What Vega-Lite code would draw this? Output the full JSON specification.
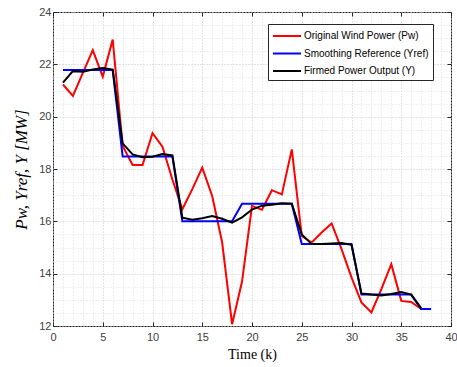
{
  "$schema": "https://vega.github.io/schema/vega-lite/v6.json",
  "width": 398,
  "height": 314,
  "autosize": "none",
  "padding": {"left": 53, "top": 12, "right": 6, "bottom": 41},
  "background": "white",
  "config": {
    "view": {"stroke": "#262626", "strokeWidth": 1},
    "style": {"guide-title": {"fontWeight": "normal"}},
    "axis": {
      "labelFont": "Liberation Sans",
      "labelFontSize": 11,
      "labelColor": "#404040",
      "tickColor": "#262626",
      "tickSize": -4,
      "domain": false,
      "titleColor": "#000000",
      "titleFontWeight": "normal"
    },
    "legend": {
      "orient": "none",
      "legendX": 215,
      "legendY": 12,
      "strokeColor": "#262626",
      "fillColor": "#ffffff",
      "padding": 4,
      "labelFont": "Liberation Sans",
      "labelFontSize": 10,
      "labelColor": "#000000",
      "symbolType": "M-1,0H3",
      "symbolStrokeWidth": 2,
      "symbolSize": 196,
      "labelOffset": 16,
      "rowPadding": 4.5,
      "labelLimit": 300
    }
  },
  "data": {
    "values": [
      {"k": 1, "Pw": 21.23, "Yref": 21.78, "Y": 21.3},
      {"k": 2, "Pw": 20.79, "Yref": 21.78, "Y": 21.74},
      {"k": 3, "Pw": 21.67, "Yref": 21.78, "Y": 21.72},
      {"k": 4, "Pw": 22.54, "Yref": 21.78, "Y": 21.8},
      {"k": 5, "Pw": 21.53, "Yref": 21.78, "Y": 21.86},
      {"k": 6, "Pw": 22.95, "Yref": 21.78, "Y": 21.8},
      {"k": 7, "Pw": 18.88, "Yref": 18.48, "Y": 18.98},
      {"k": 8, "Pw": 18.15, "Yref": 18.48, "Y": 18.56},
      {"k": 9, "Pw": 18.15, "Yref": 18.48, "Y": 18.45},
      {"k": 10, "Pw": 19.37, "Yref": 18.48, "Y": 18.47},
      {"k": 11, "Pw": 18.85, "Yref": 18.48, "Y": 18.57},
      {"k": 12, "Pw": 17.6, "Yref": 18.48, "Y": 18.52},
      {"k": 13, "Pw": 16.46, "Yref": 16.0, "Y": 16.14},
      {"k": 14, "Pw": 17.23, "Yref": 16.0, "Y": 16.06},
      {"k": 15, "Pw": 18.05, "Yref": 16.0, "Y": 16.12},
      {"k": 16, "Pw": 16.97, "Yref": 16.0, "Y": 16.2},
      {"k": 17, "Pw": 15.19, "Yref": 16.0, "Y": 16.1},
      {"k": 18, "Pw": 12.07, "Yref": 16.0, "Y": 15.95},
      {"k": 19, "Pw": 13.7, "Yref": 16.67, "Y": 16.15},
      {"k": 20, "Pw": 16.59, "Yref": 16.67, "Y": 16.45},
      {"k": 21, "Pw": 16.44, "Yref": 16.67, "Y": 16.6},
      {"k": 22, "Pw": 17.19, "Yref": 16.67, "Y": 16.63},
      {"k": 23, "Pw": 17.03, "Yref": 16.67, "Y": 16.69},
      {"k": 24, "Pw": 18.75, "Yref": 16.67, "Y": 16.67},
      {"k": 25, "Pw": 15.44, "Yref": 15.13, "Y": 15.5},
      {"k": 26, "Pw": 15.19, "Yref": 15.13, "Y": 15.13},
      {"k": 27, "Pw": 15.57, "Yref": 15.13, "Y": 15.13},
      {"k": 28, "Pw": 15.92, "Yref": 15.13, "Y": 15.15},
      {"k": 29, "Pw": 14.94, "Yref": 15.13, "Y": 15.17},
      {"k": 30, "Pw": 13.86, "Yref": 15.13, "Y": 15.1},
      {"k": 31, "Pw": 12.9, "Yref": 13.2, "Y": 13.24},
      {"k": 32, "Pw": 12.52, "Yref": 13.2, "Y": 13.2},
      {"k": 33, "Pw": 13.41, "Yref": 13.2, "Y": 13.17},
      {"k": 34, "Pw": 14.36, "Yref": 13.2, "Y": 13.22},
      {"k": 35, "Pw": 12.96, "Yref": 13.2, "Y": 13.3},
      {"k": 36, "Pw": 12.92, "Yref": 13.2, "Y": 13.2},
      {"k": 37, "Pw": 12.65, "Yref": 12.65, "Y": 12.68},
      {"k": 38, "Pw": null, "Yref": 12.65, "Y": null}
    ]
  },
  "layer": [
    {
      "mark": {"type": "line", "strokeWidth": 2, "clip": true},
      "encoding": {
        "x": {
          "field": "k", "type": "quantitative",
          "scale": {"domain": [0, 40], "nice": false},
          "axis": {
            "orient": "bottom",
            "title": "Time (k)",
            "titleFont": "Liberation Serif",
            "titleFontSize": 14,
            "titleFontWeight": "normal",
            "titlePadding": 5,
            "labelPadding": 9,
            "labelFlush": false,
            "labelOverlap": false,
            "values": [0,1,2,3,4,5,6,7,8,9,10,11,12,13,14,15,16,17,18,19,20,21,22,23,24,25,26,27,28,29,30,31,32,33,34,35,36,37,38,39,40],
            "labelExpr": "datum.value % 5 === 0 ? format(datum.value, 'd') : ''",
            "tickOpacity": {"condition": {"test": "datum.value % 5 === 0", "value": 1}, "value": 0},
            "grid": true,
            "gridDash": [1, 2],
            "gridColor": {"condition": {"test": "datum.value % 5 === 0", "value": "#c8c8c8"}, "value": "#dedede"}
          }
        },
        "y": {
          "field": "Pw", "type": "quantitative",
          "scale": {"domain": [12, 24], "nice": false},
          "axis": {
            "orient": "left",
            "title": "Pw,  Yref,  Y  [MW]",
            "titleFont": "Liberation Serif",
            "titleFontStyle": "italic",
            "titleFontWeight": "normal",
            "titleFontSize": 17,
            "titlePadding": 8,
            "labelPadding": 6,
            "labelOverlap": false,
            "values": [12,12.5,13,13.5,14,14.5,15,15.5,16,16.5,17,17.5,18,18.5,19,19.5,20,20.5,21,21.5,22,22.5,23,23.5,24],
            "labelExpr": "datum.value % 2 === 0 ? format(datum.value, 'd') : ''",
            "tickOpacity": {"condition": {"test": "datum.value % 2 === 0", "value": 1}, "value": 0},
            "grid": true,
            "gridDash": [1, 2],
            "gridColor": {"condition": {"test": "datum.value % 2 === 0", "value": "#c8c8c8"}, "value": "#dedede"}
          }
        },
        "color": {
          "datum": "Original Wind Power (Pw)",
          "type": "nominal",
          "scale": {
            "domain": ["Original Wind Power (Pw)", "Smoothing Reference (Yref)", "Firmed Power Output (Y)"],
            "range": ["#ff0000", "#0000ff", "#000000"]
          },
          "legend": {"title": null}
        }
      }
    },
    {
      "mark": {"type": "line", "strokeWidth": 2, "clip": true},
      "encoding": {
        "x": {
          "field": "k", "type": "quantitative",
          "axis": {"orient": "top", "title": null, "labels": false, "grid": false, "values": [0,5,10,15,20,25,30,35,40]}
        },
        "y": {
          "field": "Yref", "type": "quantitative",
          "axis": {"orient": "right", "title": null, "labels": false, "grid": false, "values": [12,14,16,18,20,22,24]}
        },
        "color": {"datum": "Smoothing Reference (Yref)", "type": "nominal"}
      }
    },
    {
      "mark": {"type": "line", "strokeWidth": 2, "clip": true},
      "encoding": {
        "x": {"field": "k", "type": "quantitative", "axis": null},
        "y": {"field": "Y", "type": "quantitative", "axis": null},
        "color": {"datum": "Firmed Power Output (Y)", "type": "nominal"}
      }
    }
  ],
  "resolve": {"axis": {"x": "independent", "y": "independent"}}
}
